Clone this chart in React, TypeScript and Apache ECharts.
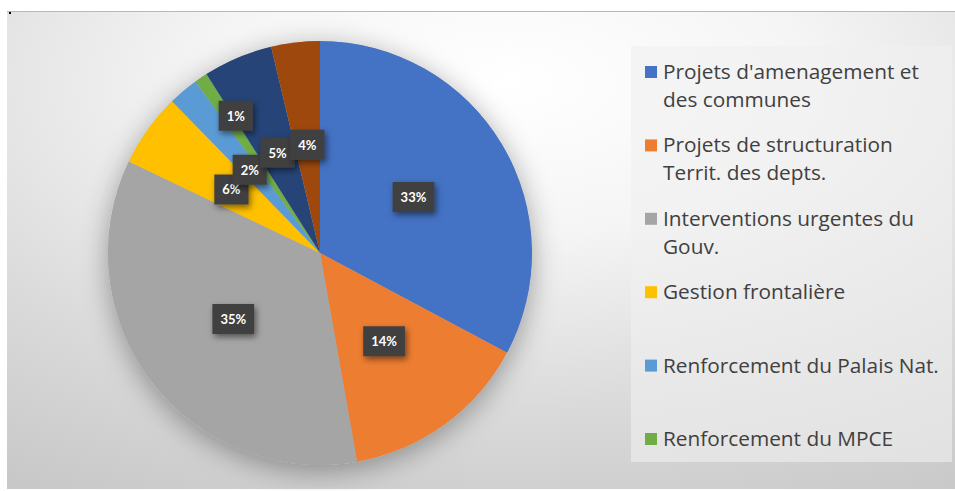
import React, { useEffect, useRef } from "react";
import * as echarts from "echarts";

const categories = [
  "Projets d'amenagement et des communes",
  "Projets de structuration Territ. des depts.",
  "Interventions urgentes du Gouv.",
  "Gestion frontalière",
  "Renforcement du Palais Nat.",
  "Renforcement du MPCE",
  "Autre 1",
  "Autre 2",
];
const values = [32.8, 14.4, 34.9, 5.6, 2.3, 1.0, 5.3, 3.7];
const colors = ["#4472C4", "#ED7D31", "#A5A5A5", "#FFC000", "#5B9BD5", "#70AD47", "#264478", "#9E480E"];
const legendLines = [
  ["Projets d'amenagement et", "des communes"],
  ["Projets de structuration", "Territ. des depts."],
  ["Interventions urgentes du", "Gouv."],
  ["Gestion frontalière"],
  ["Renforcement du Palais Nat."],
  ["Renforcement du MPCE"],
];

export default function App() {
  const ref = useRef<HTMLDivElement>(null);
  useEffect(() => {
    document.body.style.margin = "0";
    const chart = echarts.init(ref.current!, null, { renderer: "svg" });
    const legendGraphics: any[] = [];
    legendLines.forEach((lines, i) => {
      const cy = 71 + i * 73.4;
      legendGraphics.push({
        type: "rect",
        shape: { x: 645, y: cy - 5, width: 12, height: 12 },
        style: { fill: colors[i] },
        z: 5,
      });
      lines.forEach((ln, j) => {
        legendGraphics.push({
          type: "text",
          x: 663,
          y: cy + j * 28,
          style: {
            text: ln,
            fill: "#404040",
            font: "20.8px 'Open Sans'",
            textVerticalAlign: "middle",
            textAlign: "left",
          },
          z: 5,
        });
      });
    });
    chart.setOption({
      animation: false,
      backgroundColor: "#ffffff",
      graphic: [
        {
          type: "rect",
          shape: { x: 7, y: 11, width: 948, height: 478 },
          style: {
            fill: {
              type: "radial",
              x: 0.53,
              y: 0.15,
              r: 1.05,
              colorStops: [
                { offset: 0, color: "#ffffff" },
                { offset: 0.3, color: "#f5f5f5" },
                { offset: 0.65, color: "#dadada" },
                { offset: 1, color: "#c4c4c4" },
              ],
            },
          },
          z: -10,
        },
        { type: "rect", shape: { x: 7, y: 11, width: 948, height: 1 }, style: { fill: "#b8b8b8" }, z: 4 },
        { type: "rect", shape: { x: 9, y: 12, width: 2, height: 2 }, style: { fill: "#000" }, z: 5 },
        {
          type: "rect",
          shape: { x: 631, y: 46, width: 321, height: 416 },
          style: { fill: "rgba(240,240,240,0.6)" },
          z: 1,
        },
        ...legendGraphics,
      ],
      series: [
        {
          type: "pie",
          center: [320, 253],
          radius: 212,
          silent: true,
          z: 1,
          label: { show: false },
          labelLine: { show: false },
          data: [{ name: "shadow", value: 1 }],
          itemStyle: {
            color: "#b0b0b0",
            shadowBlur: 28,
            shadowOffsetY: 6,
            shadowColor: "rgba(0,0,0,0.35)",
          },
        },
        {
          type: "pie",
          center: [320, 253],
          radius: 212,
          startAngle: 90,
          clockwise: true,
          silent: true,
          z: 2,
          percentPrecision: 0,
          data: categories.map((n, i) => ({ name: n, value: values[i], itemStyle: { color: colors[i] } })),
          label: {
            show: true,
            position: "inside",
            formatter: "{d}%",
            color: "#ffffff",
            fontWeight: "bold",
            fontSize: 13,
            fontFamily: "Lato",
            backgroundColor: "#404040",
            padding: [8, 8],
            lineHeight: 14,
            shadowBlur: 6,
            shadowOffsetX: 2,
            shadowOffsetY: 3,
            shadowColor: "rgba(0,0,0,0.5)",
          },
          labelLine: { show: false },
          labelLayout: (p: any) => (p.dataIndex === 5 ? { dx: -23, dy: -47 } : {}),
          itemStyle: { borderWidth: 0 },
        },
      ],
    });
    return () => chart.dispose();
  }, []);
  return <div ref={ref} style={{ width: 955, height: 491 }} />;
}
